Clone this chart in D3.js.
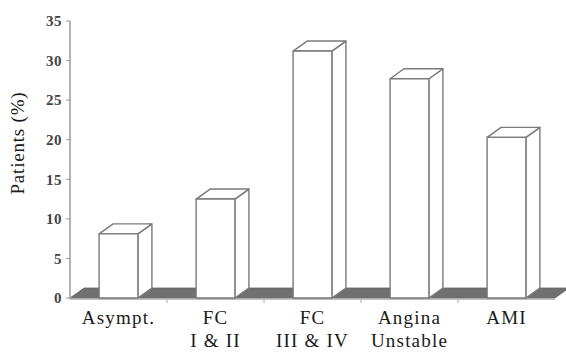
<!DOCTYPE html>
<html lang="en">
<head>
<meta charset="UTF-8">
<title>Patients by class</title>
<script src="https://d3js.org/d3.v7.min.js"></script>
<style>
    body { margin: 0; background: #fff; }
    svg { display: block; }
    .tick-label { font-family: 'Liberation Serif', serif; font-weight: bold; font-size: 15px; fill: #444; letter-spacing: 0.5px; }
    .cat-label { font-family: 'Liberation Serif', serif; font-size: 19px; fill: #1a1a1a; letter-spacing: 1.2px; }
    .axis-title { font-family: 'Liberation Serif', serif; font-size: 19px; fill: #1a1a1a; letter-spacing: 0.8px; }
</style>
</head>
<body>
<svg id="chart" width="566" height="352"></svg>
<script>
// data
const categories = ["Asympt.", "FC I & II", "FC III & IV", "Angina Unstable", "AMI"];
const labelLines = [["Asympt."], ["FC", "I & II"], ["FC", "III & IV"], ["Angina", "Unstable"], ["AMI"]];
const values = [8.1, 12.5, 31.2, 27.7, 20.3];
const yTicks = [0, 5, 10, 15, 20, 25, 30, 35];

const svg = d3.select("#chart");

const x = d3.scaleBand().domain(categories).range([70, 555]);
const y = d3.scaleLinear().domain([0, 35]).range([298, 21]);

// 3d depth offset
const dx = 14, dy = 10;
const barW = x.bandwidth() * 0.4;

// floor
const y0 = y(0);
svg.append("path")
    .attr("d", `M70,${y0} L555,${y0} L${555 + dx},${y0 - dy} L${70 + dx},${y0 - dy} Z`)
    .attr("fill", "#707070")
    .attr("stroke", "#666")
    .attr("stroke-width", 0.8);

// y axis
svg.append("line")
    .attr("x1", 70).attr("x2", 70)
    .attr("y1", y(35)).attr("y2", y0 + 1)
    .attr("stroke", "#999").attr("stroke-width", 1.5);

yTicks.forEach(t => {
    svg.append("line")
        .attr("x1", 66).attr("x2", 70)
        .attr("y1", y(t)).attr("y2", y(t))
        .attr("stroke", "#999");
    svg.append("text")
        .attr("class", "tick-label")
        .attr("x", 62).attr("y", y(t))
        .attr("dy", "0.35em")
        .attr("text-anchor", "end")
        .text(t);
});

// x axis line under the floor with ticks at band edges
svg.append("line")
    .attr("x1", 70).attr("x2", 555)
    .attr("y1", y0 + 1).attr("y2", y0 + 1)
    .attr("stroke", "#aaa").attr("stroke-width", 1.5);

categories.forEach((c, i) => {
    if (i === 0) return;
    const bx = x(c);
    svg.append("line")
        .attr("x1", bx).attr("x2", bx)
        .attr("y1", y0 + 1).attr("y2", y0 + 5)
        .attr("stroke", "#aaa");
});

// bars
const bars = svg.selectAll(".bar")
    .data(categories.map((c, i) => ({ c, v: values[i] })))
    .enter().append("g").attr("class", "bar");

bars.each(function (d) {
    const g = d3.select(this);
    const left = x(d.c) + (x.bandwidth() - barW) / 2;
    const right = left + barW;
    const top = y(d.v);
    const style = s => s.attr("fill", "#fff").attr("stroke", "#7a7a7a").attr("stroke-width", 1.4).attr("stroke-linejoin", "round");

    // side face
    style(g.append("path")
        .attr("d", `M${right},${top} L${right + dx},${top - dy} L${right + dx},${y0 - dy} L${right},${y0} Z`));
    // top face
    style(g.append("path")
        .attr("d", `M${left},${top} L${left + dx},${top - dy} L${right + dx},${top - dy} L${right},${top} Z`));
    // front face
    style(g.append("rect")
        .attr("x", left).attr("y", top)
        .attr("width", barW).attr("height", y0 - top));
});

// category labels
labelLines.forEach((lines, i) => {
    const cx = x(categories[i]) + x.bandwidth() / 2;
    lines.forEach((ln, j) => {
        svg.append("text")
            .attr("class", "cat-label")
            .attr("x", cx).attr("y", 324 + j * 23)
            .attr("text-anchor", "middle")
            .text(ln);
    });
});

// y axis title
svg.append("text")
    .attr("class", "axis-title")
    .attr("transform", "translate(24,143) rotate(-90)")
    .attr("text-anchor", "middle")
    .text("Patients (%)");
</script>
</body>
</html>
